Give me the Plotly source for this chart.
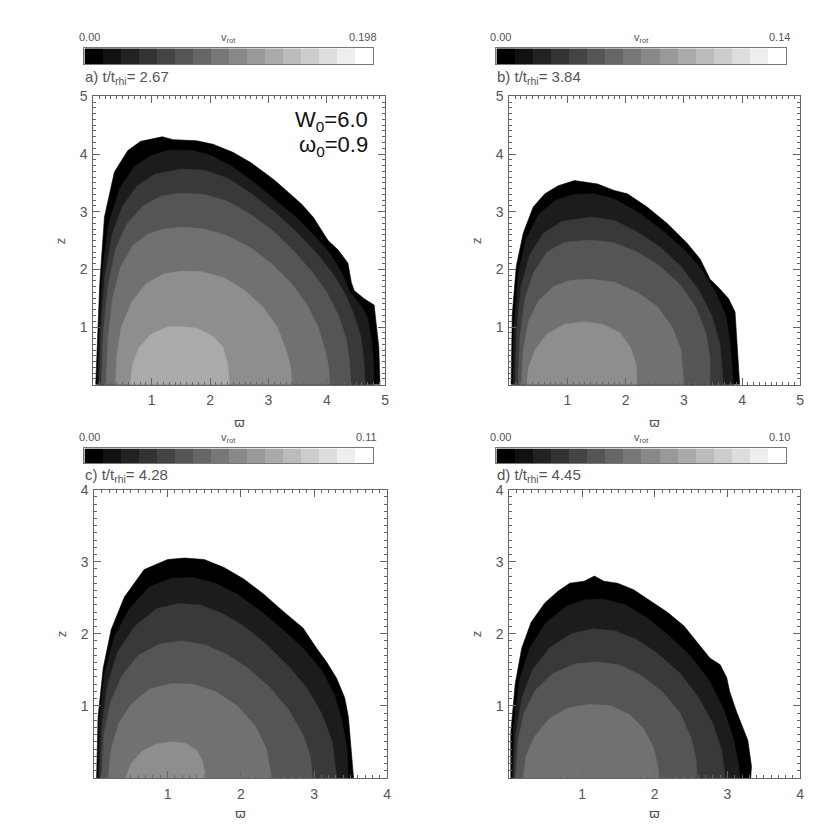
import plotly.graph_objects as go

# page has an 8 px body margin; figure is sized so it fills the 830 px window
OFF = 8
W = H = 830 - OFF

# ---------------- data ----------------
panel_labels = ["a", "b", "c", "d"]
t_values = ["2.67", "3.84", "4.28", "4.45"]
cb_min_label = "0.00"
cb_max_labels = ["0.198", "0.14", "0.11", "0.10"]
axis_max = [5, 5, 4, 4]

# grey level of each filled band, outermost -> innermost
band_grays = [0x00, 0x1c, 0x39, 0x55, 0x71, 0x8e, 0xaa]
# 16-step colour bar
cb_grays = [0x00, 0x11, 0x22, 0x33, 0x44, 0x55, 0x66, 0x77,
            0x88, 0x99, 0xaa, 0xbb, 0xcc, 0xdd, 0xee, 0xff]

# contour boundaries (varpi, z), outermost first
a_R = [
    [0.04, 0.07, 0.11, 0.19, 0.36, 0.59, 0.81, 1.18, 1.37, 1.77, 2.05, 2.39, 2.7, 3.1, 3.57, 3.77, 3.91, 4.02, 4.19, 4.36, 4.42, 4.47, 4.64, 4.81, 4.84, 4.87, 4.89, 4.91],
    [0.07, 0.10, 0.16, 0.26, 0.45, 0.70, 1.0, 1.3, 1.7, 2.0, 2.35, 2.7, 3.1, 3.5, 3.8, 4.05, 4.25, 4.40, 4.60, 4.70, 4.76, 4.80, 4.81],
    [0.10, 0.13, 0.2, 0.32, 0.5, 0.75, 1.05, 1.5, 1.9, 2.3, 2.7, 3.1, 3.5, 3.85, 4.1, 4.3, 4.45, 4.58, 4.63, 4.66],
    [0.14, 0.17, 0.25, 0.38, 0.58, 0.85, 1.15, 1.5, 1.9, 2.3, 2.7, 3.1, 3.45, 3.75, 4.0, 4.2, 4.33, 4.39, 4.41],
    [0.22, 0.25, 0.33, 0.47, 0.68, 0.95, 1.25, 1.55, 1.9, 2.3, 2.7, 3.05, 3.4, 3.65, 3.85, 3.97, 4.03, 4.05],
    [0.38, 0.40, 0.48, 0.65, 0.9, 1.2, 1.5, 1.85, 2.25, 2.6, 2.9, 3.15, 3.3, 3.38, 3.40],
    [0.63, 0.67, 0.78, 0.98, 1.26, 1.49, 1.77, 2.05, 2.22, 2.30, 2.33],
]
a_z = [
    [0, 0.9, 1.77, 2.91, 3.69, 4.06, 4.22, 4.30, 4.25, 4.23, 4.17, 4.03, 3.85, 3.55, 3.13, 2.90, 2.67, 2.50, 2.34, 2.11, 1.77, 1.63, 1.49, 1.38, 1.10, 0.87, 0.65, 0],
    [0, 1.0, 2.0, 2.8, 3.4, 3.78, 3.98, 4.07, 4.06, 3.98, 3.80, 3.55, 3.22, 2.88, 2.57, 2.28, 1.95, 1.60, 1.35, 1.15, 0.8, 0.4, 0],
    [0, 1.0, 1.9, 2.6, 3.1, 3.45, 3.65, 3.74, 3.72, 3.58, 3.32, 3.0, 2.63, 2.25, 1.93, 1.60, 1.25, 0.85, 0.45, 0],
    [0, 0.9, 1.7, 2.35, 2.8, 3.1, 3.27, 3.32, 3.30, 3.18, 2.95, 2.65, 2.30, 1.95, 1.60, 1.20, 0.80, 0.40, 0],
    [0, 0.8, 1.5, 2.05, 2.42, 2.62, 2.71, 2.73, 2.70, 2.58, 2.37, 2.10, 1.75, 1.40, 1.00, 0.60, 0.30, 0],
    [0, 0.5, 1.0, 1.42, 1.75, 1.92, 1.97, 1.96, 1.85, 1.63, 1.35, 1.0, 0.6, 0.3, 0],
    [0, 0.35, 0.64, 0.87, 1.0, 1.01, 0.98, 0.84, 0.65, 0.36, 0],
]

b_R = [
    [0.03, 0.05, 0.12, 0.24, 0.41, 0.61, 0.84, 1.12, 1.52, 1.80, 2.03, 2.37, 2.71, 3.05, 3.28, 3.45, 3.62, 3.77, 3.88, 3.91, 3.96],
    [0.06, 0.08, 0.15, 0.28, 0.5, 0.8, 1.1, 1.45, 1.8, 2.2, 2.6, 3.0, 3.3, 3.55, 3.72, 3.80, 3.85],
    [0.10, 0.12, 0.2, 0.35, 0.58, 0.9, 1.4, 1.8, 2.2, 2.6, 2.95, 3.25, 3.48, 3.62, 3.68],
    [0.15, 0.18, 0.27, 0.42, 0.65, 0.95, 1.4, 1.8, 2.2, 2.6, 2.95, 3.2, 3.38, 3.45, 3.45],
    [0.21, 0.24, 0.33, 0.5, 0.75, 1.05, 1.4, 1.8, 2.2, 2.55, 2.8, 2.95, 3.0],
    [0.30, 0.33, 0.45, 0.65, 0.95, 1.3, 1.6, 1.9, 2.08, 2.18, 2.2],
]
b_z = [
    [0, 1.21, 2.06, 2.63, 3.08, 3.31, 3.45, 3.54, 3.48, 3.37, 3.31, 3.08, 2.80, 2.46, 2.18, 1.83, 1.66, 1.49, 1.26, 0.75, 0],
    [0, 1.0, 1.9, 2.5, 2.95, 3.2, 3.3, 3.31, 3.22, 3.0, 2.7, 2.35, 2.0, 1.6, 1.2, 0.7, 0],
    [0, 0.9, 1.7, 2.25, 2.62, 2.83, 2.91, 2.85, 2.65, 2.38, 2.05, 1.65, 1.2, 0.7, 0],
    [0, 0.8, 1.5, 1.95, 2.3, 2.47, 2.51, 2.46, 2.3, 2.05, 1.72, 1.35, 0.9, 0.45, 0],
    [0, 0.6, 1.1, 1.45, 1.7, 1.81, 1.83, 1.78, 1.6, 1.35, 1.0, 0.6, 0],
    [0, 0.3, 0.62, 0.88, 1.05, 1.09, 1.05, 0.9, 0.65, 0.35, 0],
]

c_R = [
    [0.03, 0.05, 0.12, 0.23, 0.41, 0.68, 1.0, 1.23, 1.50, 1.77, 2.04, 2.31, 2.58, 2.85, 3.04, 3.17, 3.31, 3.42, 3.47, 3.51, 3.54],
    [0.05, 0.07, 0.14, 0.27, 0.48, 0.75, 1.05, 1.35, 1.65, 1.95, 2.25, 2.55, 2.85, 3.1, 3.28, 3.38, 3.45, 3.47],
    [0.07, 0.1, 0.18, 0.32, 0.55, 0.85, 1.15, 1.45, 1.75, 2.05, 2.35, 2.65, 2.9, 3.1, 3.25, 3.31],
    [0.10, 0.13, 0.22, 0.38, 0.6, 0.9, 1.2, 1.5, 1.8, 2.1, 2.4, 2.65, 2.85, 2.95, 2.98],
    [0.19, 0.23, 0.33, 0.5, 0.75, 1.05, 1.35, 1.65, 1.95, 2.2, 2.35, 2.42],
    [0.43, 0.5, 0.65, 0.85, 1.05, 1.25, 1.4, 1.48, 1.52],
]
c_z = [
    [0, 0.84, 1.52, 2.06, 2.51, 2.89, 3.03, 3.05, 3.03, 2.92, 2.76, 2.55, 2.31, 2.08, 1.79, 1.61, 1.38, 1.11, 0.84, 0.38, 0],
    [0, 0.8, 1.45, 1.95, 2.35, 2.65, 2.77, 2.78, 2.7, 2.55, 2.33, 2.08, 1.8, 1.5, 1.15, 0.8, 0.4, 0],
    [0, 0.7, 1.3, 1.75, 2.1, 2.35, 2.42, 2.4, 2.28, 2.1, 1.85, 1.55, 1.25, 0.9, 0.5, 0],
    [0, 0.6, 1.05, 1.42, 1.7, 1.86, 1.9, 1.85, 1.72, 1.52, 1.25, 0.95, 0.6, 0.3, 0],
    [0, 0.4, 0.75, 1.02, 1.23, 1.31, 1.3, 1.2, 1.0, 0.72, 0.4, 0],
    [0, 0.2, 0.37, 0.47, 0.5, 0.48, 0.38, 0.22, 0],
]

d_R = [
    [0.02, 0.02, 0.08, 0.17, 0.30, 0.49, 0.67, 0.83, 1.03, 1.17, 1.30, 1.49, 1.71, 1.94, 2.17, 2.40, 2.58, 2.76, 2.90, 2.99, 3.03, 3.12, 3.21, 3.28, 3.33, 3.32],
    [0.04, 0.06, 0.14, 0.28, 0.5, 0.78, 1.05, 1.3, 1.6, 1.9, 2.2, 2.5, 2.75, 2.95, 3.08, 3.15, 3.17],
    [0.06, 0.09, 0.17, 0.32, 0.55, 0.85, 1.15, 1.45, 1.75, 2.05, 2.35, 2.6, 2.8, 2.92, 2.97],
    [0.09, 0.12, 0.2, 0.36, 0.6, 0.9, 1.2, 1.5, 1.8, 2.1, 2.35, 2.5, 2.57, 2.58],
    [0.19, 0.23, 0.35, 0.55, 0.8, 1.1, 1.4, 1.65, 1.85, 1.98, 2.04, 2.06],
]
d_z = [
    [0, 0.62, 1.30, 1.80, 2.16, 2.43, 2.59, 2.70, 2.73, 2.80, 2.73, 2.70, 2.61, 2.45, 2.30, 2.11, 1.89, 1.66, 1.57, 1.39, 1.20, 0.93, 0.70, 0.52, 0.16, 0],
    [0, 0.7, 1.35, 1.8, 2.15, 2.38, 2.47, 2.48, 2.4, 2.22, 1.97, 1.68, 1.35, 0.95, 0.55, 0.2, 0],
    [0, 0.6, 1.1, 1.5, 1.8, 2.0, 2.07, 2.04, 1.92, 1.72, 1.45, 1.12, 0.75, 0.38, 0],
    [0, 0.5, 0.9, 1.22, 1.45, 1.58, 1.61, 1.57, 1.43, 1.2, 0.9, 0.55, 0.25, 0],
    [0, 0.3, 0.58, 0.82, 0.97, 1.02, 1.0, 0.88, 0.68, 0.42, 0.18, 0],
]

panels_R = [a_R, b_R, c_R, d_R]
panels_z = [a_z, b_z, c_z, d_z]

# ---------------- layout geometry (window pixels) ----------------
plot_px = [  # x0, x1, ytop, ybottom
    (92, 386, 90, 384),
    (511, 804, 90, 384),
    (93, 388, 491, 785),
    (511, 804, 491, 785),
]
cbar_px = [
    (83, 374, 41, 57),
    (498, 790, 41, 57),
    (83, 374, 449, 464),
    (498, 790, 449, 464),
]


def fx(px):
    return (px - OFF) / W


def fy(py):
    return 1 - (py - OFF) / H


def grey(g):
    return f"rgb({g},{g},{g})"


TXT = "#555555"
AX = "#666666"
FONT = "Liberation Sans"
fig = go.Figure()
layout = dict(
    width=W, height=H, margin=dict(l=0, r=0, t=0, b=0),
    paper_bgcolor="white", plot_bgcolor="white", showlegend=False,
    font=dict(family=FONT, color=TXT),
)
annotations = []

for i in range(4):
    xa = "x" if i == 0 else f"x{i+1}"
    ya = "y" if i == 0 else f"y{i+1}"
    for k, (Rs, zs) in enumerate(zip(panels_R[i], panels_z[i])):
        col = grey(band_grays[k])
        fig.add_trace(go.Scatter(
            x=Rs, y=zs, mode="lines", fill="toself", fillcolor=col,
            line=dict(color=col, width=0.6), xaxis=xa, yaxis=ya,
            hoverinfo="skip"))
    x0, x1, yt, yb = plot_px[i]
    common = dict(
        range=[0, axis_max[i]], tickmode="linear", tick0=0, dtick=1,
        labelalias={"0": " "},
        ticks="inside", ticklen=7, tickwidth=1, tickcolor=AX,
        showline=True, linecolor=AX, linewidth=1, mirror="ticks",
        showgrid=False, zeroline=False, layer="above traces",
        tickfont=dict(size=14, color=TXT, family=FONT),
        minor=dict(dtick=0.1, tick0=0, ticks="inside", ticklen=3,
                   tickwidth=1, tickcolor=AX, showgrid=False),
    )
    layout["xaxis" if i == 0 else f"xaxis{i+1}"] = dict(
        common, domain=[fx(x0), fx(x1)], anchor=ya, ticklabelstandoff=3)
    layout["yaxis" if i == 0 else f"yaxis{i+1}"] = dict(
        common, domain=[fy(yb), fy(yt)], anchor=xa, ticklabelstandoff=2)

    # colour bar strip
    j = i + 5
    cx0, cx1, cyt, cyb = cbar_px[i]
    fig.add_trace(go.Heatmap(
        z=[list(range(16))], x=list(range(16)), y=[0],
        colorscale=[[n / 15, grey(g)] for n, g in enumerate(cb_grays)],
        zmin=0, zmax=15, showscale=False, xaxis=f"x{j}", yaxis=f"y{j}",
        hoverinfo="skip"))
    layout[f"xaxis{j}"] = dict(domain=[fx(cx0), fx(cx1)], anchor=f"y{j}",
                               range=[-0.5, 15.5], showticklabels=False,
                               ticks="", showgrid=False, zeroline=False,
                               showline=True, linecolor="#777777", mirror=True)
    layout[f"yaxis{j}"] = dict(domain=[fy(cyb), fy(cyt)], anchor=f"x{j}",
                               range=[-0.5, 0.5], showticklabels=False,
                               ticks="", showgrid=False, zeroline=False,
                               showline=True, linecolor="#777777", mirror=True)

    # colour bar labels
    ytxt = cyt - 12
    annotations.append(dict(text=cb_min_label, x=fx(cx0 - 8), y=fy(ytxt),
                            xref="paper", yref="paper", xanchor="left",
                            yanchor="middle", showarrow=False,
                            font=dict(size=11, color=TXT)))
    annotations.append(dict(text=cb_max_labels[i], x=fx(cx1 + 6), y=fy(ytxt),
                            xref="paper", yref="paper", xanchor="right",
                            yanchor="middle", showarrow=False,
                            font=dict(size=11, color=TXT)))
    annotations.append(dict(text="v<sub>rot</sub>", x=fx((cx0 + cx1) / 2),
                            y=fy(ytxt + 1), xref="paper", yref="paper",
                            xanchor="center", yanchor="middle",
                            showarrow=False, font=dict(size=11, color=TXT)))
    # panel title
    annotations.append(dict(text=f"{panel_labels[i]}) t/t<sub>rhi</sub>= {t_values[i]}",
                            x=fx(cx0 - 1), y=fy(yt - 19 if i < 2 else yt - 14),
                            xref="paper", yref="paper", xanchor="left",
                            yanchor="middle", showarrow=False,
                            font=dict(size=15, color=TXT)))
    # axis titles
    annotations.append(dict(text="ϖ", x=fx((x0 + x1) / 2),
                            y=fy(yb + (39 if i < 2 else 36)),
                            xref="paper", yref="paper", xanchor="center",
                            yanchor="middle", showarrow=False,
                            font=dict(size=13, color=TXT, family="DejaVu Sans")))
    annotations.append(dict(text="z", x=fx(x0 - 33), y=fy((yt + yb) / 2),
                            xref="paper", yref="paper", xanchor="center",
                            yanchor="middle", showarrow=False, textangle=-90,
                            font=dict(size=13, color=TXT)))

annotations.append(dict(text="W<sub>0</sub>=6.0", x=fx(371), y=fy(115),
                        xref="paper", yref="paper", xanchor="right",
                        yanchor="middle", showarrow=False,
                        font=dict(size=22, color="#111111")))
annotations.append(dict(text="ω<sub>0</sub>=0.9", x=fx(371), y=fy(141),
                        xref="paper", yref="paper", xanchor="right",
                        yanchor="middle", showarrow=False,
                        font=dict(size=22, color="#111111")))

layout["annotations"] = annotations
fig.update_layout(**layout)
fig.write_html("out.html")
